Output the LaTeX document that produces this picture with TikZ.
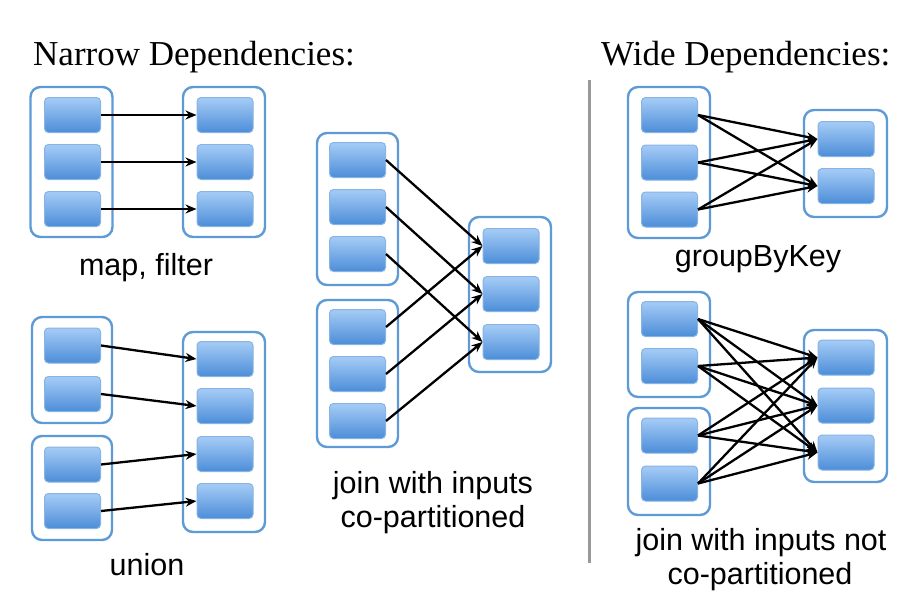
\documentclass[tikz,border=0pt]{standalone}
\usepackage{fontspec}
\setmainfont{Liberation Serif}
\newfontfamily\sansf{Liberation Sans}
\usetikzlibrary{arrows.meta}
\definecolor{contc}{HTML}{5E9BD6}
\definecolor{boxtop}{HTML}{A6CCF6}
\definecolor{boxbot}{HTML}{4C8DD8}
\definecolor{boxline}{HTML}{86B4E4}
\begin{document}
\begin{tikzpicture}[x=1pt,y=-1pt,
  cont/.style={draw=contc, line width=2.4pt, rounded corners=10pt, fill=white, inner sep=0pt},
  part/.style={draw=boxline, line width=1pt, rounded corners=4pt, top color=boxtop, bottom color=boxbot, minimum width=56pt, minimum height=35pt, inner sep=0pt},
  dep/.style={draw=black, line width=2.3pt, -{Stealth[length=11pt,width=9pt]}},
  ttl/.style={font=\fontsize{35}{40}\selectfont, anchor=base west, inner sep=0pt},
  lbl/.style={font=\sansf\fontsize{30.5}{34}\selectfont, anchor=base, inner sep=0pt}]
\useasboundingbox (0,0) rectangle (921,606);

% titles and separator
\node[ttl] (tn) at (33,65) {Narrow Dependencies:};
\node[ttl] (tw) at (601,65) {Wide Dependencies:};
\draw[draw=gray!80, line width=3pt] (589,80) -- (589,563);

% ---------- map, filter ----------
\node[cont, minimum width=82pt, minimum height=150pt] (mfl) at (71.5,162) {};
\node[cont, minimum width=82pt, minimum height=150pt] (mfr) at (224,162) {};
\foreach \i/\y in {1/115,2/162,3/209}{
  \node[part] (mfa\i) at (72.5,\y) {};
  \node[part] (mfb\i) at (225,\y) {};
}
\foreach \i in {1,2,3}{ \draw[dep] (mfa\i.east) -- (mfb\i.west); }
\node[lbl] (lmf) at (146,275) {map, filter};

% ---------- union ----------
\node[cont, minimum width=80pt, minimum height=106pt] (ul1) at (72,370) {};
\node[cont, minimum width=80pt, minimum height=104pt] (ul2) at (72,488) {};
\node[cont, minimum width=82pt, minimum height=200pt] (ur) at (224,432) {};
\node[part] (ua1) at (72.5,345.5) {};
\node[part] (ua2) at (72.5,394) {};
\node[part] (ua3) at (72.5,464.5) {};
\node[part] (ua4) at (72.5,511) {};
\foreach \i/\y in {1/359,2/406,3/454,4/501}{ \node[part] (ub\i) at (225,\y) {}; }
\foreach \i in {1,2,3,4}{ \draw[dep] (ua\i.east) -- (ub\i.west); }
\node[lbl] (lun) at (147,575) {union};

% ---------- join co-partitioned ----------
\node[cont, minimum width=81pt, minimum height=152pt] (jl1) at (357.5,209) {};
\node[cont, minimum width=81pt, minimum height=147pt] (jl2) at (357.5,373.5) {};
\node[cont, minimum width=82pt, minimum height=155pt] (jr) at (510,294.5) {};
\foreach \i/\y in {1/160,2/207,3/254}{ \node[part] (ja\i) at (357.5,\y) {}; }
\foreach \i/\y in {1/327,2/374,3/421}{ \node[part] (jc\i) at (357.5,\y) {}; }
\foreach \i/\y in {1/246,2/294,3/342}{ \node[part] (jb\i) at (511,\y) {}; }
\foreach \i in {1,2,3}{
  \draw[dep] (ja\i.east) -- (jb\i.west);
  \draw[dep] (jc\i.east) -- (jb\i.west);
}
\node[lbl] (ljc1) at (433,493) {join with inputs};
\node[lbl] (ljc2) at (433,527) {co-partitioned};

% ---------- groupByKey ----------
\node[cont, minimum width=82pt, minimum height=151pt] (gl) at (669,162.5) {};
\node[cont, minimum width=83pt, minimum height=107pt] (gr) at (845.5,163.5) {};
\foreach \i/\y in {1/115,2/162.5,3/209.5}{ \node[part] (ga\i) at (669.5,\y) {}; }
\foreach \i/\y in {1/139,2/186}{ \node[part] (gb\i) at (846,\y) {}; }
\foreach \i in {1,2,3}{ \foreach \j in {1,2}{ \draw[dep] (ga\i.east) -- (gb\j.west); } }
\node[lbl] (lgb) at (758,266) {groupByKey};

% ---------- join not co-partitioned ----------
\node[cont, minimum width=82pt, minimum height=105pt] (nl1) at (669,344.5) {};
\node[cont, minimum width=82pt, minimum height=107pt] (nl2) at (669,461.5) {};
\node[cont, minimum width=83pt, minimum height=152pt] (nr) at (845.5,406) {};
\foreach \i/\y in {1/319,2/366,3/435.5,4/483.5}{ \node[part] (na\i) at (669.5,\y) {}; }
\foreach \i/\y in {1/357.5,2/405.5,3/452.5}{ \node[part] (nb\i) at (846,\y) {}; }
\foreach \i in {1,2,3,4}{ \foreach \j in {1,2,3}{ \draw[dep] (na\i.east) -- (nb\j.west); } }
\node[lbl] (lnc1) at (761,550) {join with inputs not};
\node[lbl] (lnc2) at (760,584) {co-partitioned};
\end{tikzpicture}
\end{document}
